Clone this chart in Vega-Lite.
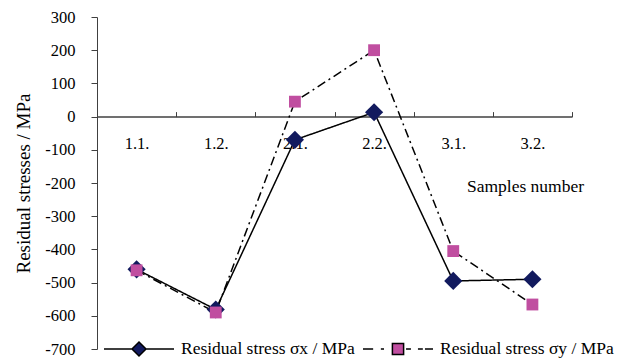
{
  "$schema": "https://vega.github.io/schema/vega-lite/v6.json",
  "width": 475,
  "height": 332,
  "autosize": {"type": "none"},
  "padding": {"left": 97, "top": 17, "right": 55, "bottom": 11},
  "background": "white",
  "config": {
    "font": "Liberation Serif",
    "view": {"stroke": null},
    "style": {"guide-title": {"font": "Liberation Serif"}, "guide-label": {"font": "Liberation Serif"}},
    "axis": {
      "grid": false,
      "domainColor": "#404040",
      "tickColor": "#404040",
      "labelColor": "black",
      "titleColor": "black",
      "labelFont": "Liberation Serif",
      "titleFont": "Liberation Serif",
      "labelFontSize": 16.5,
      "titleFontSize": 17.5,
      "titleFontWeight": "normal"
    },
    "legend": {
      "labelFont": "Liberation Serif",
      "labelFontSize": 17.5,
      "labelColor": "black",
      "labelOffset": 6,
      "labelLimit": 400,
      "symbolSize": 4900,
      "symbolStrokeColor": "black",
      "symbolStrokeWidth": 1.5,
      "symbolOpacity": 1
    }
  },
  "data": {
    "values": [
      {"sample": "1.1.", "series": "Residual stress σx / MPa", "stress": -460},
      {"sample": "1.2.", "series": "Residual stress σx / MPa", "stress": -581},
      {"sample": "2.1.", "series": "Residual stress σx / MPa", "stress": -70},
      {"sample": "2.2.", "series": "Residual stress σx / MPa", "stress": 13},
      {"sample": "3.1.", "series": "Residual stress σx / MPa", "stress": -495},
      {"sample": "3.2.", "series": "Residual stress σx / MPa", "stress": -490},
      {"sample": "1.1.", "series": "Residual stress σy / MPa", "stress": -463},
      {"sample": "1.2.", "series": "Residual stress σy / MPa", "stress": -590},
      {"sample": "2.1.", "series": "Residual stress σy / MPa", "stress": 45},
      {"sample": "2.2.", "series": "Residual stress σy / MPa", "stress": 200},
      {"sample": "3.1.", "series": "Residual stress σy / MPa", "stress": -405},
      {"sample": "3.2.", "series": "Residual stress σy / MPa", "stress": -566}
    ]
  },
  "encoding": {
    "x": {
      "field": "sample",
      "type": "nominal",
      "sort": null,
      "scale": {"type": "band", "paddingInner": 0, "paddingOuter": 0},
      "axis": {
        "title": "Samples number",
        "orient": "bottom",
        "offset": -232.4,
        "tickBand": "extent",
        "tickSize": -5,
        "labelAngle": 0,
        "labelPadding": 24,
        "labelFont": "Liberation Serif",
        "titleFont": "Liberation Serif",
        "titleFontSize": 17.5,
        "domainWidth": 1.5,
        "titleX": 428,
        "titleY": 70,
        "titleAlign": "center",
        "titleBaseline": "middle"
      }
    },
    "y": {
      "field": "stress",
      "type": "quantitative",
      "scale": {"domain": [-700, 300], "nice": false, "zero": false},
      "axis": {
        "title": "Residual stresses / MPa",
        "values": [-700, -600, -500, -400, -300, -200, -100, 0, 100, 200, 300],
        "labelExpr": "datum.value < 0 ? '-' + abs(datum.value) : '' + datum.value",
        "tickSize": 6,
        "labelPadding": 16,
        "labelFont": "Liberation Serif",
        "titleFont": "Liberation Serif",
        "titleFontSize": 19,
        "titlePadding": 11
      }
    }
  },
  "layer": [
    {
      "mark": {"type": "line", "color": "black", "strokeWidth": 1.5},
      "encoding": {
        "detail": {"field": "series", "type": "nominal"},
        "strokeDash": {
          "condition": {"test": "datum.series === 'Residual stress σy / MPa'", "value": [9, 4, 2, 4]},
          "value": [1, 0]
        }
      }
    },
    {
      "transform": [{"filter": "datum.series === 'Residual stress σx / MPa'"}],
      "mark": {"type": "point", "filled": true, "opacity": 1, "shape": "diamond", "size": 330},
      "encoding": {
        "fill": {
          "field": "series",
          "type": "nominal",
          "scale": {"range": ["#121a5e"]},
          "legend": {
            "orient": "none",
            "legendX": 6,
            "legendY": 296,
            "direction": "horizontal",
            "title": null,
            "symbolType": "M-1,0H-0.17M0.17,0H1M0,-0.2L0.2,0L0,0.2L-0.2,0Z"
          }
        }
      }
    },
    {
      "transform": [{"filter": "datum.series === 'Residual stress σy / MPa'"}],
      "mark": {"type": "point", "filled": true, "opacity": 1, "shape": "square", "size": 140},
      "encoding": {
        "color": {
          "field": "series",
          "type": "nominal",
          "scale": {"range": ["#c04ea0"]},
          "legend": {
            "orient": "none",
            "legendX": 265,
            "legendY": 296,
            "direction": "horizontal",
            "title": null,
            "symbolType": "M-1,0H-0.71M-0.49,0H-0.4M0.23,0H0.37M0.57,0H0.71M0.77,0H1M-0.16,-0.16H0.16V0.16H-0.16Z"
          }
        }
      }
    }
  ]
}
